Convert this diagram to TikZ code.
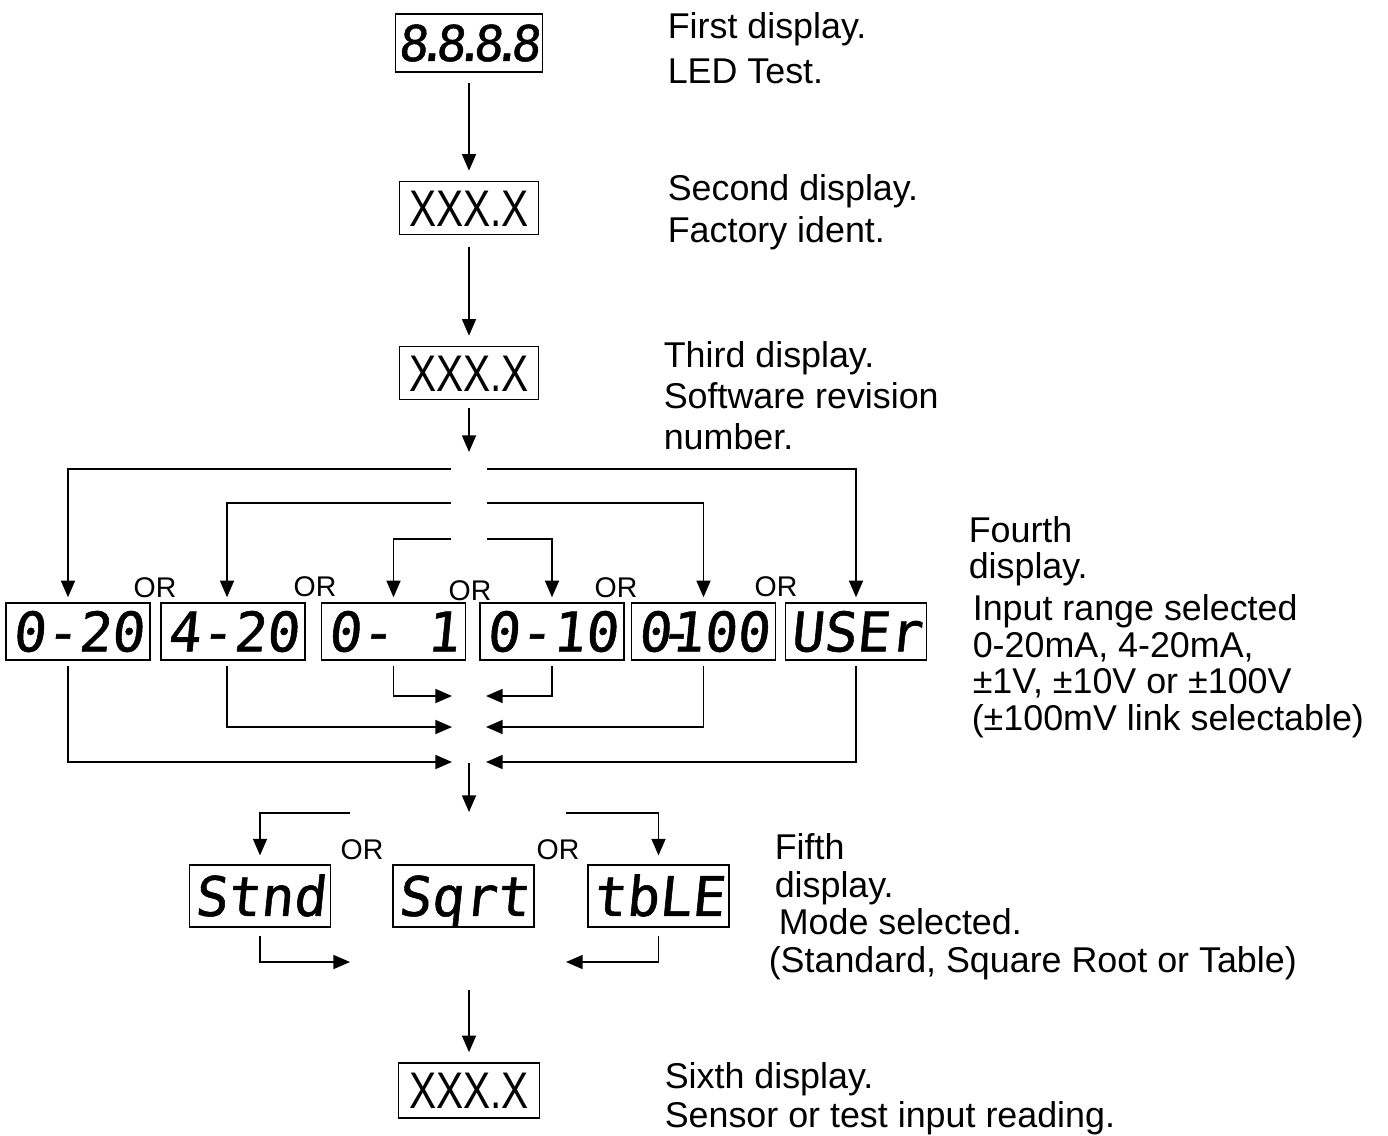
\documentclass[tikz,border=0pt]{standalone}
\usepackage{fontspec}
\setmainfont{Liberation Sans}
\newfontfamily\segfont[FakeSlant=0.1, FakeBold=1]{DejaVu Sans Mono}
\newfontfamily\narrowfont[FakeStretch=0.79]{Liberation Sans}
\usetikzlibrary{arrows.meta}
\newcommand{\segdot}{\makebox[0.16em]{.}}

\begin{document}
\begin{tikzpicture}[x=0.02cm, y=-0.02cm, line width=0.9pt,
        flow/.style={-{Triangle[length=9.5pt, width=8pt]}},
        segbox/.style={draw, inner sep=0pt, minimum width=2.88cm, minimum height=1.14cm,
            font=\segfont\fontsize{31pt}{31pt}\selectfont, text height=22.6pt, text depth=0pt},
        dispbox/.style={draw, inner sep=0pt, minimum width=2.78cm, minimum height=1.06cm,
            font=\narrowfont\fontsize{29.3pt}{30pt}\selectfont, text height=21pt, text depth=0pt},
        note/.style={anchor=base west, inner sep=0pt, font=\fontsize{20.4pt}{24pt}\selectfont},
        ortext/.style={inner sep=0pt, font=\fontsize{16.2pt}{18pt}\selectfont}]
    \useasboundingbox (0, 0) rectangle (1388, 1135);

    % displays, top column
    \node[segbox, minimum width=2.94cm, minimum height=1.16cm,
        font=\segfont\fontsize{28pt}{28pt}\selectfont, text height=20.4pt] (test) at (469, 43) {8\segdot8\segdot8\segdot8};
    \node[dispbox] (ident) at (469, 208) {XXX.X};
    \node[dispbox] (rev) at (469, 373) {XXX.X};
        \node[note] (n1a) at (667, 39) {First display.};
        \node[note] (n1b) at (667, 84) {LED Test.};
        \node[note] (n2a) at (667, 200) {Second display.};
        \node[note] (n2b) at (667, 242) {Factory ident.};
        \node[note] (n3a) at (663, 367) {Third display.};
        \node[note] (n3b) at (663, 408) {Software revision};
        \node[note] (n3c) at (663, 449) {number.};
    \draw[flow, shorten <=5.7pt, shorten >=5.7pt] (test) -- (ident);
    \draw[flow, shorten <=6.5pt, shorten >=5.7pt] (ident) -- (rev);
    \coordinate (s0) at (469, 452);
    \draw[flow, shorten <=4.5pt] (rev) -- (s0);

    % input range
    \node[segbox] (r020) at (78, 631.5) {0-20};
    \node[segbox] (r420) at (233, 631.5) {4-20};
    \node[segbox] (r01) at (393.5, 631.5) {0-\ 1};
    \node[segbox] (r010) at (552, 631.5) {0-10};
    \node[segbox] (r0100) at (703.5, 631.5) {0\rlap{\kern-0.22em-}100};
    \node[segbox, minimum width=2.82cm] (ruser) at (856, 631.5) {USEr};
        \node[ortext] (or1) at (155, 588) {OR};
        \node[ortext] (or2) at (315, 587) {OR};
        \node[ortext] (or3) at (470, 591) {OR};
        \node[ortext] (or4) at (616, 588) {OR};
        \node[ortext] (or5) at (776, 587) {OR};
        \node[note] (n4a) at (968, 542) {Fourth};
        \node[note] (n4b) at (968, 578) {display.};
        \node[note] (n4c) at (972, 620) {Input range selected};
        \node[note] (n4d) at (972, 657) {0-20mA, 4-20mA,};
        \node[note] (n4e) at (972, 693) {±1V, ±10V or ±100V};
        \node[note] (n4f) at (971, 730) {(±100mV link selectable)};
    \coordinate (s1l) at (451, 469);
    \coordinate (s1r) at (487, 469);
    \coordinate (s2l) at (451, 503);
    \coordinate (s2r) at (487, 503);
    \coordinate (s3l) at (451, 539);
    \coordinate (s3r) at (487, 539);
    \draw[flow, shorten >=2.8pt] (s1l) -| ([xshift=-5.7pt]r020.north);
    \draw[flow, shorten >=2.8pt] (s1r) -| (ruser);
    \draw[flow, shorten >=2.8pt] (s2l) -| ([xshift=-3.4pt]r420.north);
    \draw[flow, shorten >=2.8pt] (s2r) -| (r0100);
    \draw[flow, shorten >=2.8pt] (s3l) -| (r01);
    \draw[flow, shorten >=2.8pt] (s3r) -| (r010);
    \coordinate (m1l) at (452, 696);
    \coordinate (m1r) at (486, 696);
    \coordinate (m2l) at (452, 727);
    \coordinate (m2r) at (486, 727);
    \coordinate (m3l) at (452, 762);
    \coordinate (m3r) at (486, 762);
    \draw[flow, shorten <=2.8pt] (r01) |- (m1l);
    \draw[flow, shorten <=2.8pt] (r010) |- (m1r);
    \draw[flow, shorten <=2.8pt] ([xshift=-3.4pt]r420.south) |- (m2l);
    \draw[flow, shorten <=2.8pt] (r0100) |- (m2r);
    \draw[flow, shorten <=2.8pt] ([xshift=-5.7pt]r020.south) |- (m3l);
    \draw[flow, shorten <=2.8pt] (ruser) |- (m3r);
    \coordinate (j1) at (469, 763);
    \coordinate (j2) at (469, 812);
    \draw[flow] (j1) -- (j2);

    % mode
    \node[segbox, minimum width=2.82cm, minimum height=1.24cm] (mstd) at (260, 896) {Stnd};
    \node[segbox, minimum width=2.82cm, minimum height=1.24cm] (msqrt) at (463.5, 896) {Sqrt};
    \node[segbox, minimum width=2.82cm, minimum height=1.24cm] (mtbl) at (658.5, 896) {tbLE};
        \node[ortext] (or6) at (362, 850) {OR};
        \node[ortext] (or7) at (558, 850) {OR};
        \node[note] (n5a) at (774, 859) {Fifth};
        \node[note] (n5b) at (774, 897) {display.};
        \node[note] (n5c) at (778, 934) {Mode selected.};
        \node[note] (n5d) at (768, 972) {(Standard, Square Root or Table)};
    \coordinate (f1l) at (350, 813);
    \coordinate (f1r) at (566, 813);
    \draw[flow, shorten >=5pt] (f1l) -| (mstd);
    \draw[flow, shorten >=5pt] (f1r) -| (mtbl);
    \coordinate (g1l) at (350, 962);
    \coordinate (g1r) at (566, 962);
    \draw[flow, shorten <=4.5pt] (mstd) |- (g1l);
    \draw[flow, shorten <=4.5pt] (mtbl) |- (g1r);

    % reading
    \node[dispbox, minimum width=2.82cm, minimum height=1.1cm] (read) at (469, 1090.5) {XXX.X};
        \node[note] (n6a) at (664, 1088) {Sixth display.};
        \node[note] (n6b) at (664, 1127) {Sensor or test input reading.};
    \coordinate (j3) at (469, 990);
    \draw[flow, shorten >=5.7pt] (j3) -- (read);
\end{tikzpicture}
\end{document}
